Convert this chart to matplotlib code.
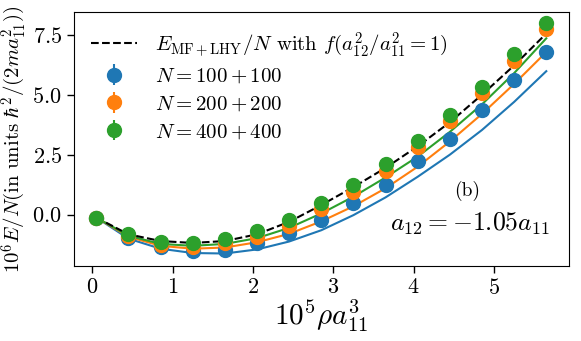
import matplotlib
matplotlib.use("Agg")
import matplotlib.pyplot as plt
from matplotlib.ticker import FuncFormatter, FixedLocator

plt.rcParams['font.family'] = 'serif'
plt.rcParams['font.serif'] = ['cmr10']
plt.rcParams['mathtext.fontset'] = 'cm'
plt.rcParams['axes.unicode_minus'] = False

x = [0.05, 0.45, 0.85, 1.25, 1.65, 2.05, 2.45, 2.85, 3.25, 3.65, 4.05, 4.45, 4.85, 5.25, 5.65]

# fitted / theory curves
line_mf = [-0.12, -0.82, -1.10, -1.18, -1.10, -0.82, -0.30, 0.40, 1.15, 1.95, 2.85, 3.85, 5.00, 6.22, 7.55]
line_100 = [-0.12, -1.00, -1.42, -1.60, -1.62, -1.45, -1.12, -0.65, -0.02, 0.72, 1.58, 2.50, 3.53, 4.70, 5.98]
line_200 = [-0.12, -0.92, -1.30, -1.42, -1.37, -1.15, -0.80, -0.28, 0.35, 1.10, 2.00, 3.05, 4.20, 5.45, 6.78]
line_400 = [-0.12, -0.88, -1.22, -1.30, -1.22, -0.98, -0.55, 0.05, 0.75, 1.55, 2.42, 3.45, 4.60, 5.90, 7.35]

# simulation points
pts_100 = [-0.14, -0.96, -1.36, -1.50, -1.47, -1.19, -0.76, -0.22, 0.47, 1.24, 2.25, 3.14, 4.35, 5.60, 6.79]
pts_200 = [-0.14, -0.90, -1.25, -1.33, -1.20, -0.92, -0.48, 0.25, 0.94, 1.80, 2.80, 3.92, 5.07, 6.40, 7.74]
pts_400 = [-0.12, -0.82, -1.12, -1.17, -1.03, -0.67, -0.24, 0.50, 1.24, 2.10, 3.05, 4.17, 5.33, 6.70, 7.97]
err = [0.05] * len(x)

labels = [r'$N=100+100$', r'$N=200+200$', r'$N=400+400$']
colors = ['#1f77b4', '#ff7f0e', '#2ca02c']

fig = plt.figure(figsize=(5.81, 3.41), dpi=100)
ax = fig.add_axes([0.127, 0.22, 0.852, 0.745])

h_mf, = ax.plot(x, line_mf, 'k--', lw=1.5, zorder=3,
                label=r'$E_{\rm MF+LHY}/N$ with $f(a_{12}^2/a_{11}^2=1)$')
for ln, c in zip([line_100, line_200, line_400], colors):
    ax.plot(x, ln, '-', color=c, lw=1.5, zorder=2)
handles = [h_mf]
for p, c, lab in zip([pts_100, pts_200, pts_400], colors, labels):
    h = ax.errorbar(x, p, yerr=err, fmt='o', color=c, ms=10, elinewidth=1.5,
                    label=lab, zorder=4)
    handles.append(h)

ax.set_xlim(-0.23, 5.93)
ax.set_ylim(-2.14, 8.45)
ax.xaxis.set_major_locator(FixedLocator([0, 1, 2, 3, 4, 5]))
ax.yaxis.set_major_locator(FixedLocator([0.0, 2.5, 5.0, 7.5]))
ax.xaxis.set_major_formatter(FuncFormatter(lambda v, p: r'$%d$' % v))
ax.yaxis.set_major_formatter(FuncFormatter(lambda v, p: r'$%.1f$' % v))
ax.tick_params(labelsize=16, length=5, width=1)

ax.set_xlabel(r'$10^5\rho a_{11}^3$', fontsize=21, labelpad=0)
ax.set_ylabel(r'$10^6E/N(\mathrm{in\ units}\ \hbar^2/(2ma_{11}^2))$', fontsize=15, labelpad=3)

ax.legend(handles=handles, loc='upper left', frameon=False, fontsize=15,
          handlelength=2.2, handletextpad=0.85, borderaxespad=0.45, labelspacing=0.42)

ax.text(0.794, 0.295, r'(b)', transform=ax.transAxes, fontsize=14, ha='center', va='center')
ax.text(0.80, 0.165, r'$a_{12}=-1.05a_{11}$', transform=ax.transAxes, fontsize=18.5, ha='center', va='center')

fig.savefig('out.png', dpi=100)
